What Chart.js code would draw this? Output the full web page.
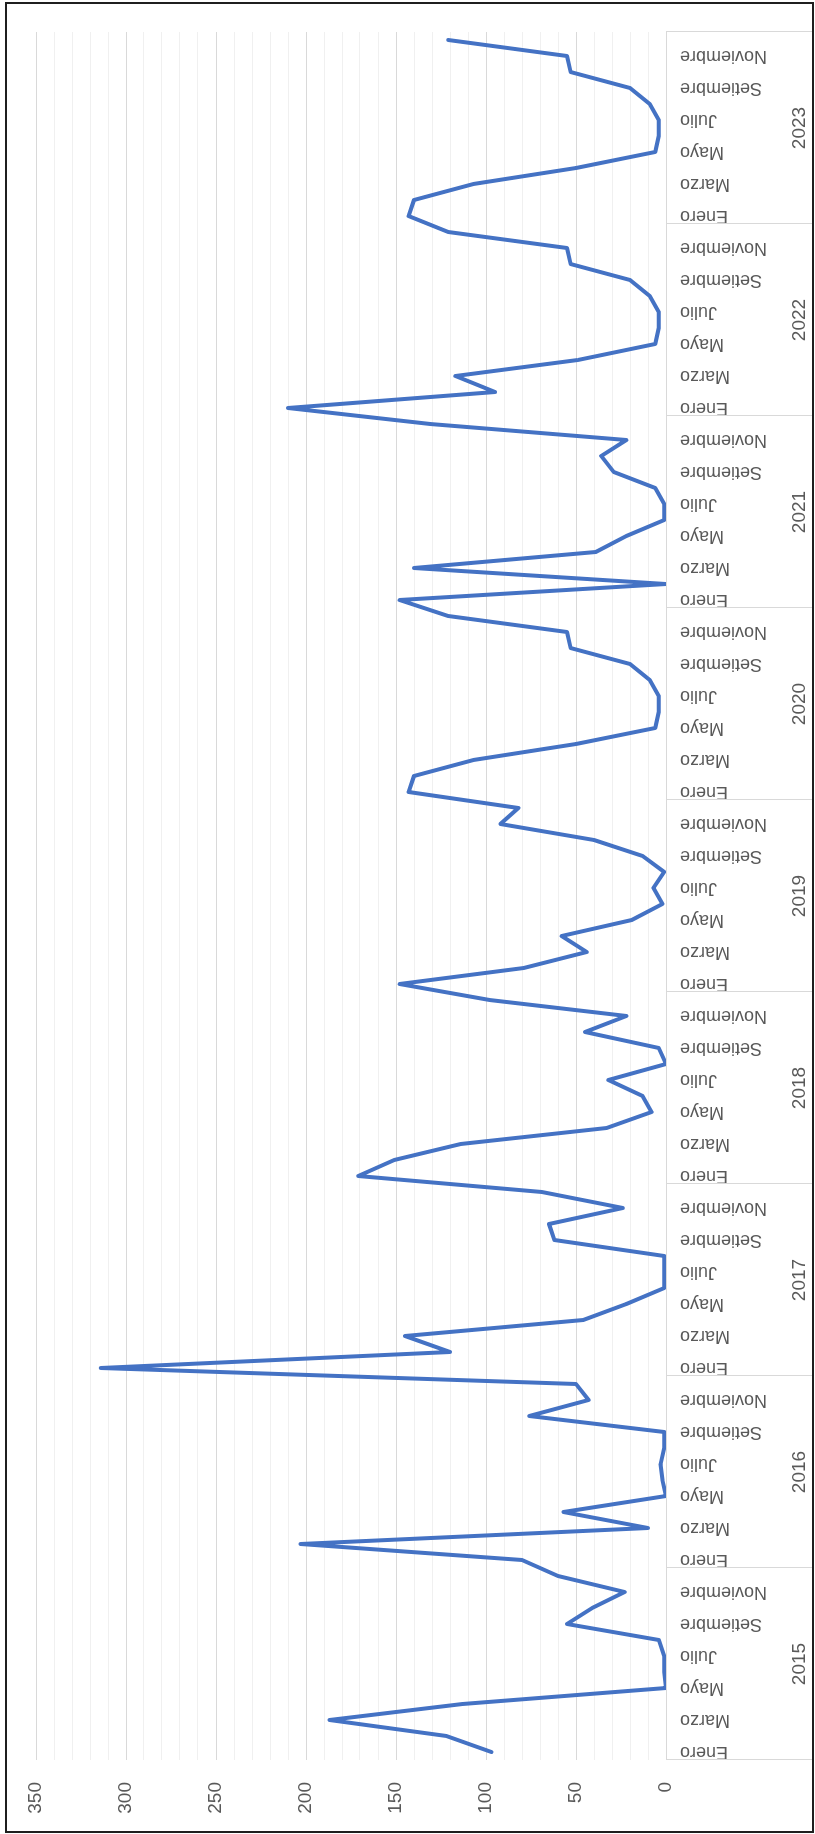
<!DOCTYPE html>
<html>
<head>
<meta charset="utf-8">
<script src="https://cdn.jsdelivr.net/npm/chart.js@4"></script>
<style>
  html, body { margin: 0; padding: 0; background: #fff; }
  #wrap { position: relative; width: 815px; height: 1834px; overflow: hidden; }
  /* chart is drawn landscape, then turned a quarter turn to the left */
  #myChart { position: absolute; left: 0; top: 0; transform-origin: 0 0;
    transform: translate(0px, 1834px) rotate(-90deg); }
</style>
</head>
<body>
<div id="wrap"><canvas id="myChart" width="1834" height="815"></canvas></div>
<script>
const months = ['Enero', 'Febrero', 'Marzo', 'Abril', 'Mayo', 'Junio', 'Julio', 'Agosto', 'Setiembre', 'Octubre', 'Noviembre', 'Diciembre'];
const years = ['2015', '2016', '2017', '2018', '2019', '2020', '2021', '2022', '2023'];

const v2015 = [97, 122, 187, 113, 0, 1, 1, 4, 55, 41, 23, 60];
const v2016 = [80, 203, 10, 57, 0, 2, 3, 1, 1, 76, 43, 50];
const v2017 = [314, 120, 145, 46, 22, 1, 1, 1, 62, 65, 24, 69];
const v2018 = [171, 151, 114, 33, 8, 13, 32, 0, 4, 45, 22, 98];
const v2019 = [148, 79, 44, 58, 19, 2, 7, 1, 13, 40, 92, 82];
const v2020 = [143, 140, 107, 50, 6, 4, 4, 9, 20, 53, 55, 121];
const v2021 = [148, 0, 140, 39, 22, 1, 1, 6, 29, 36, 22, 131];
const v2022 = [210, 95, 117, 49, 6, 4, 4, 9, 20, 53, 55, 121];
const v2023 = [143, 140, 107, 50, 6, 4, 4, 9, 20, 53, 55, 121];

const yTicksMax = 350;
const yTickStep = 10;
const yLabelStep = 50;

const labels = years.flatMap(() => months);
const values = [].concat(v2015, v2016, v2017, v2018, v2019, v2020, v2021, v2022, v2023);

const FONT = 'Liberation Sans';
const TEXT = '#595959';
const AXIS = '#d9d9d9';

// year groups under the month labels, with the separating ticks
const yearGroups = {
  id: 'yearGroups',
  afterDraw(chart) {
    const ctx = chart.ctx;
    const xs = chart.scales.x;
    const area = chart.chartArea;
    const half = (xs.getPixelForValue(1) - xs.getPixelForValue(0)) / 2;
    ctx.save();
    ctx.strokeStyle = AXIS;
    ctx.lineWidth = 1;
    for (let j = 0; j <= years.length; j++) {
      let px = j < years.length ? xs.getPixelForValue(j * 12) - half : xs.getPixelForValue(years.length * 12 - 1) + half;
      px = Math.round(px) + 0.5;
      ctx.beginPath();
      ctx.moveTo(px, area.bottom);
      ctx.lineTo(px, 813);
      ctx.stroke();
    }
    ctx.fillStyle = TEXT;
    ctx.font = '19px "' + FONT + '"';
    ctx.textAlign = 'center';
    ctx.textBaseline = 'middle';
    years.forEach((y, j) => {
      const c = (xs.getPixelForValue(j * 12) + xs.getPixelForValue(j * 12 + 11)) / 2;
      ctx.fillText(y, c, 800);
    });
    ctx.restore();
  }
};

const frame = {
  id: 'frame',
  afterDraw(chart) {
    const ctx = chart.ctx;
    ctx.save();
    ctx.strokeStyle = '#1f1f1f';
    ctx.lineWidth = 2;
    ctx.strokeRect(2, 6, 1829, 807);
    ctx.restore();
  }
};

const ctx = document.getElementById('myChart');

new Chart(ctx, {
  type: 'line',
  data: {
    labels: labels,
    datasets: [{
      data: values,
      borderColor: '#4472C4',
      borderWidth: 4,
      borderJoinStyle: 'round',
      borderCapStyle: 'round',
      pointRadius: 0,
      tension: 0,
      fill: false
    }]
  },
  options: {
    responsive: false,
    devicePixelRatio: 1,
    animation: false,
    layout: { padding: { top: 36, right: 32, left: 0, bottom: 0 } },
    plugins: { legend: { display: false }, tooltip: { enabled: false } },
    scales: {
      x: {
        type: 'category',
        offset: true,
        grid: { display: false, drawTicks: false },
        border: { display: false },
        ticks: {
          autoSkip: false,
          minRotation: 90,
          maxRotation: 90,
          padding: 14,
          color: TEXT,
          font: { family: FONT, size: 18 },
          callback: function (val, i) { return i % 2 === 0 ? months[i % 12] : ''; }
        },
        afterFit: function (s) { s.height = 149; }
      },
      y: {
        min: 0,
        max: yTicksMax,
        border: { display: false },
        grid: {
          drawTicks: false,
          lineWidth: 1,
          color: (c) => (c.tick && c.tick.value % yLabelStep === 0) ? AXIS : '#f0f0f0'
        },
        ticks: {
          stepSize: yTickStep,
          autoSkip: false,
          padding: 22,
          color: TEXT,
          font: { family: FONT, size: 19 },
          callback: (v) => (v % yLabelStep === 0 ? v : '')
        },
        afterFit: function (s) { s.width = 74; }
      }
    }
  },
  plugins: [yearGroups, frame]
});
</script>
</body>
</html>
